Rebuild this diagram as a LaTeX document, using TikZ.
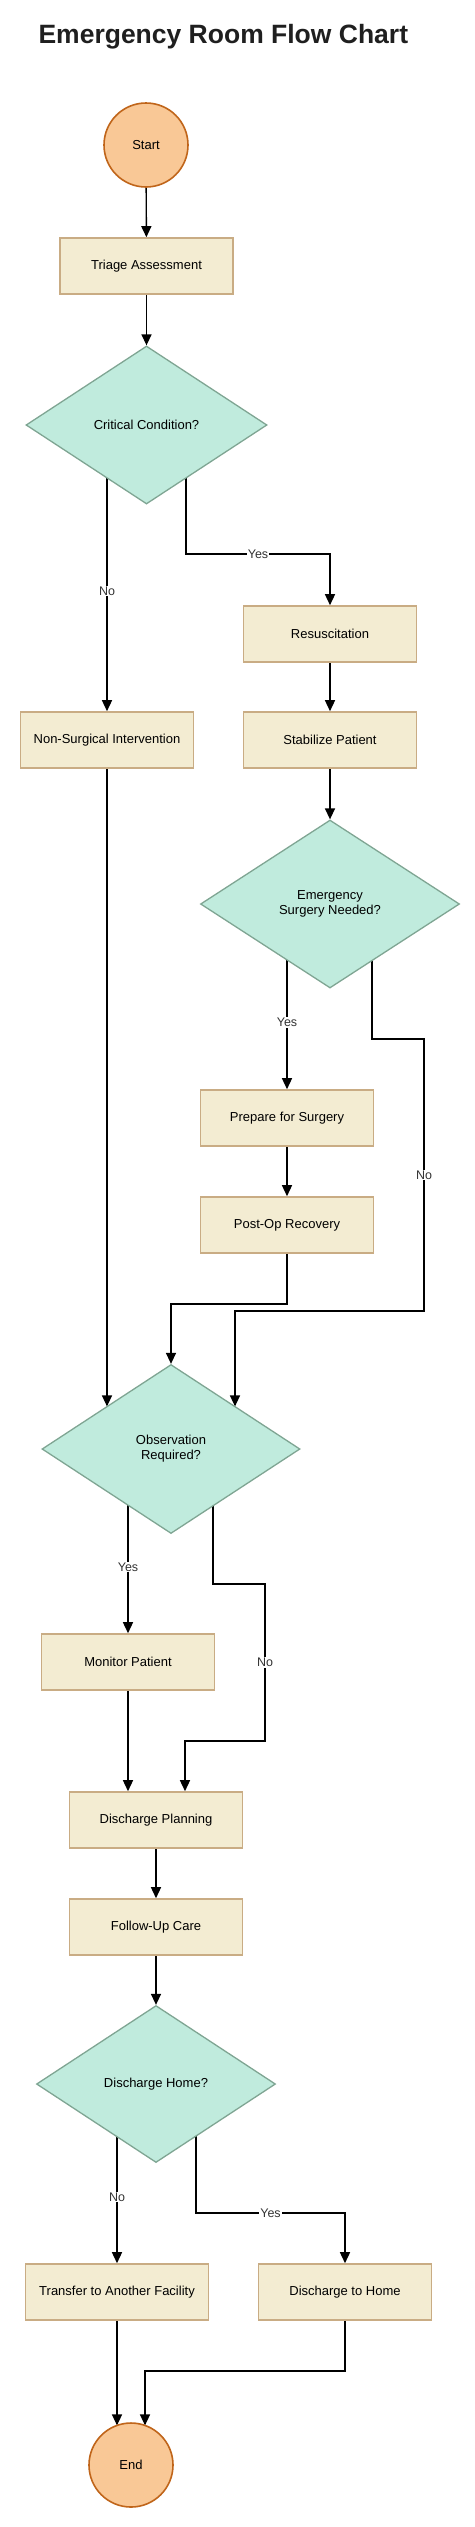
\documentclass[tikz,border=0pt]{standalone}
\usepackage{fontspec}
\setmainfont{Liberation Sans}
\usetikzlibrary{shapes.geometric,arrows.meta,backgrounds}
\definecolor{cfill}{HTML}{F9C896}
\definecolor{cdraw}{HTML}{C0651A}
\definecolor{bfill}{HTML}{F3ECD2}
\definecolor{bdraw}{HTML}{C9AC84}
\definecolor{dfill}{HTML}{C0EBDD}
\definecolor{ddraw}{HTML}{7FA593}
\begin{document}
\begin{tikzpicture}[x=1pt,y=-1pt,
  term/.style={circle,fill=cfill,draw=cdraw,line width=1.6pt,minimum size=84pt,inner sep=0pt,font=\fontsize{13}{15}\selectfont},
  box/.style={rectangle,fill=bfill,draw=bdraw,line width=1.6pt,minimum width=173pt,minimum height=56pt,inner sep=0pt,font=\fontsize{13}{15}\selectfont},
  dec/.style={diamond,fill=dfill,draw=ddraw,line width=1.3pt,inner sep=0pt,align=center,font=\fontsize{13}{15}\selectfont},
  arr/.style={-{Triangle[length=11pt,width=10pt]},line width=1.4pt},
  lbl/.style={fill=white,inner sep=1pt,font=\fontsize{12.5}{14}\selectfont,text=black!80}]
\useasboundingbox (0,0) rectangle (474,2527);
\node[anchor=base west,font=\fontsize{26.5}{30}\selectfont\bfseries,text=black!88] (title) at (35,43) {Emergency Room Flow Chart};
\node[term] (start) at (146,145) {Start};
\node[box] (triage) at (146.5,266) {Triage Assessment};
\node[dec,minimum width=241pt,minimum height=158pt] (crit) at (146.5,425) {Critical Condition?};
\node[box] (resus) at (330,634) {Resuscitation};
\node[box] (nonsurg) at (107,740) {Non-Surgical Intervention};
\node[box] (stab) at (330,740) {Stabilize Patient};
\node[dec,minimum width=259pt,minimum height=168pt] (emerg) at (330,904) {Emergency\\Surgery Needed?};
\node[box] (prep) at (287,1118) {Prepare for Surgery};
\node[box] (post) at (287,1225) {Post-Op Recovery};
\node[dec,minimum width=258pt,minimum height=169pt] (obs) at (171,1449) {Observation\\Required?};
\node[box] (monitor) at (128,1662) {Monitor Patient};
\node[box] (dplan) at (156,1820) {Discharge Planning};
\node[box] (follow) at (156,1927) {Follow-Up Care};
\node[dec,minimum width=239pt,minimum height=157pt] (dhome) at (156,2084) {Discharge Home?};
\node[box,minimum width=183pt] (transfer) at (117,2292) {Transfer to Another Facility};
\node[box] (home) at (345,2292) {Discharge to Home};
\node[term] (end) at (131,2465) {End};
\coordinate (c1) at (330,554);
\coordinate (c2) at (424,1039);
\coordinate (c3) at (235,1311);
\coordinate (c4) at (171,1304);
\coordinate (c5) at (265,1584);
\coordinate (c6) at (185,1741);
\coordinate (c7) at (345,2213);
\coordinate (c8) at (145,2371);
\begin{pgfonlayer}{background}
\draw[arr] (start) -- (triage);
\draw[arr] (triage) -- (crit.north);
\draw[arr] ([xshift=-39.5pt]crit.center) -- node[lbl,pos=0.58]{No} (nonsurg.north);
\draw[arr] ([xshift=39.5pt]crit.center) |- node[lbl,pos=0.75]{Yes} (c1) -- (resus.north);
\draw[arr] (resus) -- (stab);
\draw[arr] (stab) -- (emerg.north);
\draw[arr] ([xshift=-43pt]emerg.center) -- node[lbl,pos=0.64]{Yes} (prep.north);
\draw[arr] ([xshift=42pt]emerg.center) |- (c2) |- node[lbl,pos=0.25]{No} (c3) -- ([xshift=64pt,yshift=42.6pt]obs.center);
\draw[arr] (prep) -- (post);
\draw[arr] (post.south) |- (c4) -- (obs.north);
\draw[arr] (nonsurg.south) -- ([xshift=-64pt,yshift=42.6pt]obs.center);
\draw[arr] ([xshift=-43pt]obs.center) -- node[lbl,pos=0.64]{Yes} (monitor.north);
\draw[arr] ([xshift=42pt]obs.center) |- (c5) |- node[lbl,pos=0.25]{No} (c6) -- (c6 |- dplan.north);
\draw[arr] (monitor.south) -- (monitor.south |- dplan.north);
\draw[arr] (dplan) -- (follow);
\draw[arr] (follow) -- (dhome.north);
\draw[arr] ([xshift=-39pt]dhome.center) -- node[lbl,pos=0.63]{No} (transfer.north);
\draw[arr] ([xshift=40pt]dhome.center) |- node[lbl,pos=0.75]{Yes} (c7) -- (home.north);
\draw[arr] (transfer.south) -- ([xshift=-14pt,yshift=39.6pt]end.center);
\draw[arr] (home.south) |- (c8) -- ([xshift=14pt,yshift=39.6pt]end.center);
\end{pgfonlayer}
\end{tikzpicture}
\end{document}
